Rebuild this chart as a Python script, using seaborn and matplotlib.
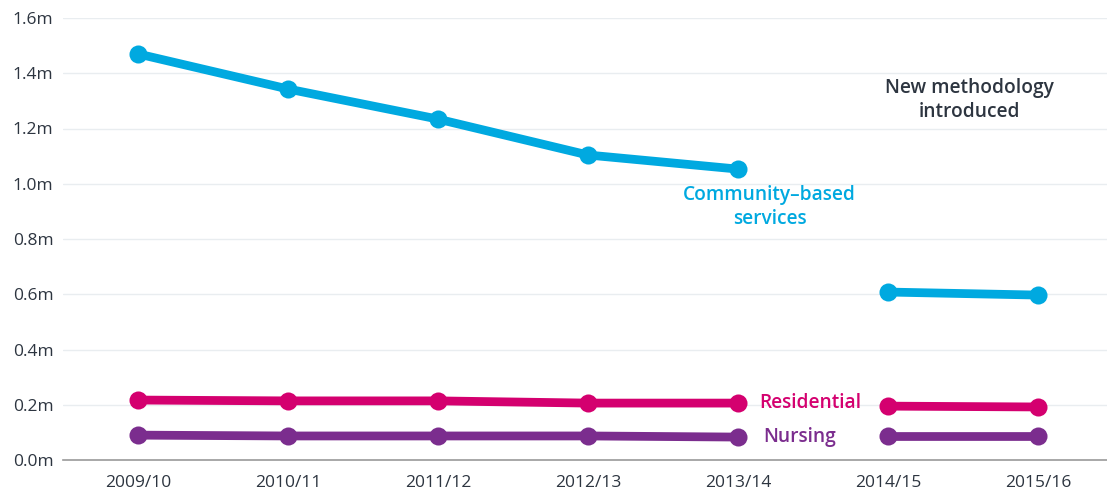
import pandas as pd
import matplotlib.pyplot as plt
import seaborn as sns

years = ['2009/10', '2010/11', '2011/12', '2012/13', '2013/14', '2014/15', '2015/16']
community = [1.470, 1.343, 1.234, 1.104, 1.053, 0.608, 0.597]
residential = [0.217, 0.214, 0.214, 0.206, 0.206, 0.195, 0.192]
nursing = [0.090, 0.087, 0.087, 0.087, 0.083, 0.087, 0.087]
# methodology changed after 2013/14, so the lines break there
segment = ['old'] * 5 + ['new'] * 2

colors = {'Community': '#00a9e0', 'Residential': '#d4006f', 'Nursing': '#7b2d8e'}
text_dark = '#2d3540'

rows = []
for name, vals in [('Community', community), ('Residential', residential), ('Nursing', nursing)]:
    for i, (yr, v) in enumerate(zip(years, vals)):
        rows.append({'pos': i, 'year': yr, 'value': v, 'series': name, 'segment': segment[i]})
df = pd.DataFrame(rows)

sns.set_style('white')
plt.rcParams['font.family'] = ['Open Sans', 'DejaVu Sans']

fig = plt.figure(figsize=(11.07, 4.99), dpi=100)
ax = fig.add_axes([63 / 1107, 39 / 499, 1 - 63 / 1107, (460 - 18) / 499])

sns.lineplot(data=df, x='pos', y='value', hue='series', units='segment', estimator=None,
             palette=colors, marker='o', markersize=13, markeredgewidth=0,
             linewidth=6.3, legend=False, ax=ax, zorder=3)

ax.set_xlim(-0.5, 6.46)
ax.set_ylim(0, 1.6)
ax.set_yticks([0, 0.2, 0.4, 0.6, 0.8, 1.0, 1.2, 1.4, 1.6])
ax.set_yticklabels([f'{t:.1f}m' for t in ax.get_yticks()])
ax.set_xticks(range(len(years)))
ax.set_xticklabels(years)
ax.tick_params(axis='both', length=0, labelsize=12.5, colors=text_dark)
ax.tick_params(axis='x', pad=11)
ax.tick_params(axis='y', pad=7)
ax.grid(axis='y', color='#e9edf0', linewidth=1)
ax.set_axisbelow(True)
ax.set_xlabel(None)
ax.set_ylabel(None)
for s in ['top', 'right', 'left']:
    ax.spines[s].set_visible(False)
ax.spines['bottom'].set_color('#9a9a9a')
ax.spines['bottom'].set_linewidth(1.2)

ax.text(4.21, 0.915, 'Community–based\nservices', color=colors['Community'], fontsize=13.8,
        fontweight='semibold', ha='center', va='center', linespacing=1.25)
ax.text(4.14, 0.207, 'Residential', color=colors['Residential'], fontsize=13.8,
        fontweight='semibold', ha='left', va='center')
ax.text(4.17, 0.083, 'Nursing', color=colors['Nursing'], fontsize=13.8,
        fontweight='semibold', ha='left', va='center')
ax.text(5.54, 1.303, 'New methodology\nintroduced', color=text_dark, fontsize=13.8,
        fontweight='semibold', ha='center', va='center', linespacing=1.25)

fig.savefig('out.png', dpi=100, facecolor='white')
